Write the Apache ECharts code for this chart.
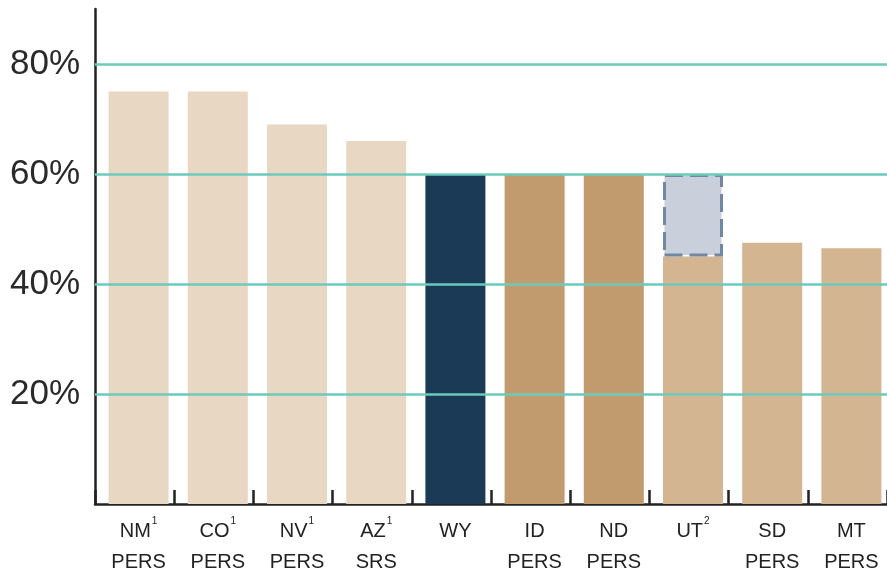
<!DOCTYPE html>
<html>
<head>
<meta charset="utf-8">
<script src="https://cdn.jsdelivr.net/npm/echarts@6/dist/echarts.min.js"></script>
<style>
  html, body { margin: 0; padding: 0; background: #ffffff; }
  #chart { width: 887px; height: 573px; }
</style>
</head>
<body>
<div id="chart"></div>
<script>
// State codes, footnote marks and plan names under each bar
const states = ['NM', 'CO', 'NV', 'AZ', 'WY', 'ID', 'ND', 'UT', 'SD', 'MT'];
const notes = ['1', '1', '1', '1', '', '', '', '2', '', ''];
const plans = ['PERS', 'PERS', 'PERS', 'SRS', '', 'PERS', 'PERS', '', 'PERS', 'PERS'];

// Replacement rate (%) per state
const rates = [75, 75, 69, 66, 60, 60, 60, 45, 47.5, 46.5];
// Extra range shown for UT (from 45% up to 60%)
const utRange = [0, 0, 0, 0, 0, 0, 0, 15, 0, 0];

// Reference lines and their labels
const gridValues = [20, 40, 60, 80];

const colorLight = '#e8d8c3';
const colorNavy = '#1a3a56';
const colorDark = '#c19a6d';
const colorMid = '#d4b592';
const barColors = [colorLight, colorLight, colorLight, colorLight, colorNavy,
                   colorDark, colorDark, colorMid, colorMid, colorMid];

const font = 'Liberation Sans, Arial, sans-serif';

const chart = echarts.init(document.getElementById('chart'));

const labels = states.map((s, i) => {
  let line1 = '{n|' + s + '}' + (notes[i] ? '{s|' + notes[i] + '}' : '');
  return plans[i] ? line1 + '\n{n|' + plans[i] + '}' : line1 + '\n{n| }';
});

chart.setOption({
  animation: false,
  backgroundColor: '#ffffff',
  grid: { left: 95, top: 9, width: 792, bottom: 69, containLabel: false, outerBoundsMode: 'none' },
  xAxis: {
    type: 'category',
    data: labels,
    axisLine: { show: true, lineStyle: { color: '#222222', width: 2.5 } },
    axisTick: { show: true, inside: true, length: 14, lineStyle: { color: '#222222', width: 2.5 } },
    axisLabel: {
      interval: 0,
      margin: 12,
      padding: [0, 0, 0, 8],
      color: '#222222',
      fontFamily: font,
      lineHeight: 31,
      rich: {
        n: { fontSize: 20, fontFamily: font, color: '#222222', lineHeight: 31 },
        s: { fontSize: 10, fontFamily: font, color: '#222222', verticalAlign: 'top', lineHeight: 31, padding: [0, 0, 8, 1] }
      }
    }
  },
  yAxis: {
    type: 'value',
    min: 0,
    max: 90,
    interval: 10,
    axisLine: { show: true, lineStyle: { color: '#222222', width: 2.5 } },
    axisTick: { show: false },
    splitLine: { show: false },
    axisLabel: {
      margin: 15,
      fontSize: 35,
      fontFamily: font,
      color: '#2a2a2a',
      formatter: v => (gridValues.indexOf(v) >= 0 ? v + '%' : '')
    }
  },
  series: [
    {
      // spacer so each bar sits toward the right of its slot
      type: 'bar',
      barWidth: 8,
      barGap: '0%',
      data: states.map(() => 0),
      itemStyle: { color: 'rgba(0,0,0,0)' },
      silent: true
    },
    {
      type: 'bar',
      stack: 'rate',
      barWidth: 60,
      barGap: '0%',
      data: rates.map((v, i) => ({ value: v, itemStyle: { color: barColors[i] } }))
    },
    {
      type: 'bar',
      stack: 'rate',
      barWidth: 60,
      barGap: '0%',
      data: utRange.map(v => (v ? v : '-')),
      itemStyle: {
        color: '#c9d0dc',
        borderColor: '#7386a2',
        borderWidth: 3,
        borderType: [18, 7]
      }
    },
    {
      type: 'line',
      data: [],
      z: 10,
      markLine: {
        silent: true,
        symbol: 'none',
        label: { show: false },
        lineStyle: { color: '#6ccabd', width: 2.5, type: 'solid' },
        data: gridValues.map(v => ({ yAxis: v }))
      }
    }
  ]
});
</script>
</body>
</html>
